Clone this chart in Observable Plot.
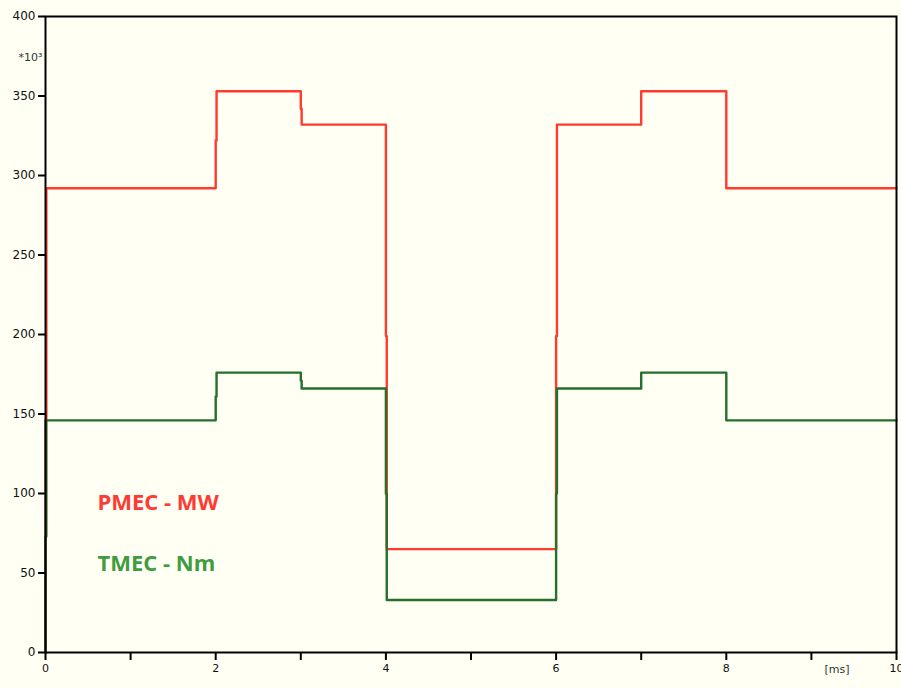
<!DOCTYPE html>
<html>
<head>
<meta charset="utf-8">
<script src="https://cdn.jsdelivr.net/npm/d3@7"></script>
<script src="https://cdn.jsdelivr.net/npm/@observablehq/plot@0.6"></script>
<style>
  html, body { margin: 0; padding: 0; background: #fffff4; }
  #chart svg { display: block; }
</style>
</head>
<body>
<div id="chart"></div>
<script>
// PMEC (MW, x10^3 scale) step samples
const pmecTime  = [0, 0, 0.01, 2, 2.01, 3, 3.01, 4, 4.01, 6, 6.01, 7, 8, 10];
const pmecValue = [0, 146, 292, 322, 353, 342, 332, 199, 65, 199, 332, 353, 292, 292];
// TMEC (Nm) step samples
const tmecTime  = [0, 0, 0.01, 2, 2.01, 3, 3.01, 4, 4.01, 6, 6.01, 7, 8, 10];
const tmecValue = [0, 73, 146, 161, 176, 171, 166, 100, 33, 100, 166, 176, 146, 146];

const yTicks = [0, 50, 100, 150, 200, 250, 300, 350, 400];
const xTicks = [0, 1, 2, 3, 4, 5, 6, 7, 8, 9, 10];
const xTickLabels = ["0", "", "2", "", "4", "", "6", "", "8", "", "10"];

const seriesLabels = ["PMEC - MW", "TMEC - Nm"];
const labelColors = ["#ff3a33", "#3f9c3f"];
const lineColors = ["#ff3a2e", "#24702a"];

const pmec = pmecTime.map((t, i) => ({t, v: pmecValue[i]}));
const tmec = tmecTime.map((t, i) => ({t, v: tmecValue[i]}));

const chart = Plot.plot({
  width: 901,
  height: 688,
  marginLeft: 45,
  marginRight: 5,
  marginTop: 16,
  marginBottom: 36,
  style: {background: "#fffff4", fontFamily: "DejaVu Sans, Verdana, sans-serif", fontSize: "11px", color: "#111"},
  x: {domain: [0, 10]},
  y: {domain: [0, 400]},
  marks: [
    Plot.lineY(pmec, {x: "t", y: "v", curve: "step-after", stroke: lineColors[0], strokeWidth: 2.4}),
    Plot.lineY(tmec, {x: "t", y: "v", curve: "step-after", stroke: lineColors[1], strokeWidth: 2.4}),
    Plot.frame({stroke: "#000", strokeWidth: 2}),
    Plot.axisY({ticks: yTicks, tickSize: 7, tickPadding: 3, label: null, stroke: "#000", strokeWidth: 2, fontSize: 12}),
    Plot.axisX({ticks: xTicks, tickSize: 8, tickPadding: 4, label: null, stroke: "#000", strokeWidth: 2, fontSize: 11,
      tickFormat: (d) => xTickLabels[xTicks.indexOf(d)]}),
    Plot.text(["[ms]"], {x: 9.3, frameAnchor: "bottom", dy: 20, fontSize: 11, fill: "#333"}),
    Plot.text(["*10³"], {frameAnchor: "top-left", textAnchor: "end", dx: -3, dy: 37, fontSize: 11, fill: "#333"}),
    Plot.text([seriesLabels[0]], {x: 0.61, y: 94, textAnchor: "start", fill: labelColors[0], fontSize: 22, fontWeight: "bold", fontFamily: "Open Sans"}),
    Plot.text([seriesLabels[1]], {x: 0.61, y: 56, textAnchor: "start", fill: labelColors[1], fontSize: 22, fontWeight: "bold", fontFamily: "Open Sans"})
  ]
});
document.getElementById("chart").appendChild(chart);
</script>
</body>
</html>
